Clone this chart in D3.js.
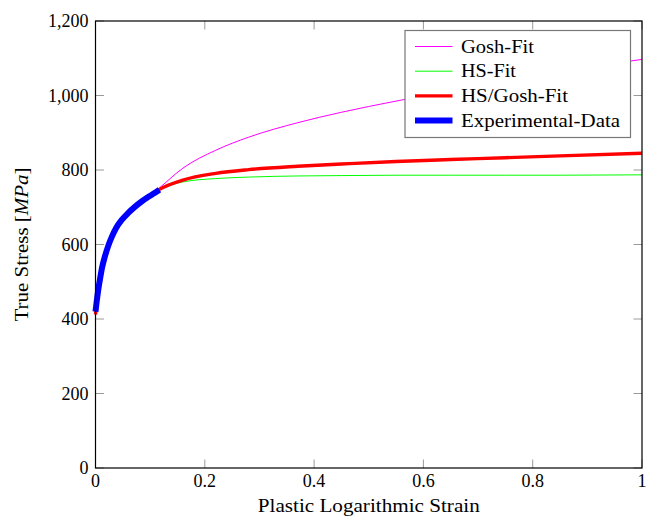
<!DOCTYPE html>
<html>
<head>
<meta charset="utf-8">
<script src="https://cdn.jsdelivr.net/npm/d3@7"></script>
<style>
  body { margin: 0; background: #fff; }
  text { font-family: "Liberation Serif", "DejaVu Serif", serif; fill: #000; }
</style>
</head>
<body>
<script>
// strain / stress
var strainExp = [0, 0.002, 0.005, 0.008, 0.012, 0.017, 0.023, 0.030, 0.038, 0.048, 0.060, 0.072, 0.085, 0.097, 0.108, 0.117]
var stressExp = [420, 445, 478, 505, 538, 567, 595, 621, 645, 666, 685, 701, 716, 728, 738, 747]

var strainFit = [0, 0.008, 0.017, 0.030, 0.048, 0.072, 0.097, 0.117, 0.16, 0.22, 0.28, 0.37, 0.45, 0.55, 0.65, 0.75, 0.85, 1.0]
var goshFit   = [412, 503, 566, 620, 665, 700, 728, 752, 805, 853, 888, 927, 955, 985, 1013, 1039, 1064, 1097]
var hsFit     = [412, 503, 566, 620, 665, 700, 728, 747, 768, 777, 781, 784, 785, 786, 786, 786, 786, 787]
var hsGoshFit = [412, 503, 566, 620, 665, 700, 728, 748, 773, 791, 801, 810, 816, 823, 828, 833, 838, 845]

var xTicks = [0, 0.2, 0.4, 0.6, 0.8, 1]
var yTicks = [0, 200, 400, 600, 800, 1000, 1200]

var series = [
  {name: "Gosh-Fit", x: strainFit, y: goshFit, color: "#ff00ff", w: 1, tl: 73},
  {name: "HS-Fit", x: strainFit, y: hsFit, color: "#00ff00", w: 1, tl: 55},
  {name: "HS/Gosh-Fit", x: strainFit, y: hsGoshFit, color: "#ff0000", w: 3.4, tl: 107},
  {name: "Experimental-Data", x: strainExp, y: stressExp, color: "#0000ff", w: 6, tl: 159}
]

var svg = d3.select('body')
    .append('svg')
    .attr('width', 650)
    .attr('height', 516)

var pLeft = 95.5, pRight = 642, pTop = 21, pBottom = 468

var x = d3.scaleLinear().domain([0, 1]).range([pLeft, pRight])
var y = d3.scaleLinear().domain([0, 1200]).range([pBottom, pTop])

var fmt = d3.format(",")
var tickLen = 8.5

// ticks, inward on all four sides
var tg = svg.append("g").attr("stroke", "#9a9a9a").attr("stroke-width", 1)
xTicks.forEach(function (t) {
  tg.append("line").attr("x1", x(t)).attr("x2", x(t)).attr("y1", pBottom).attr("y2", pBottom - tickLen)
  tg.append("line").attr("x1", x(t)).attr("x2", x(t)).attr("y1", pTop).attr("y2", pTop + tickLen)
})
yTicks.forEach(function (t) {
  tg.append("line").attr("x1", pLeft).attr("x2", pLeft + tickLen).attr("y1", y(t)).attr("y2", y(t))
  tg.append("line").attr("x1", pRight).attr("x2", pRight - tickLen).attr("y1", y(t)).attr("y2", y(t))
})

// curves
var line = d3.line()
    .x(d => x(d[0]))
    .y(d => y(d[1]))
    .curve(d3.curveMonotoneX)

series.forEach(function (s) {
  svg.append("path")
    .datum(s.x.map((v, i) => [v, s.y[i]]))
    .attr("d", line)
    .attr("fill", "none")
    .attr("stroke", s.color)
    .attr("stroke-width", s.w)
    .attr("stroke-linejoin", "round")
})

// frame
svg.append("rect")
    .attr("x", pLeft).attr("y", pTop)
    .attr("width", pRight - pLeft).attr("height", pBottom - pTop)
    .attr("fill", "none").attr("stroke", "#000").attr("stroke-width", 1.2)

// tick labels
svg.selectAll(".xl").data(xTicks).enter().append("text")
    .attr("x", d => x(d)).attr("y", pBottom + 19)
    .attr("text-anchor", "middle")
    .style("font-size", "18px")
    .text(d => d)

svg.selectAll(".yl").data(yTicks).enter().append("text")
    .attr("x", pLeft - 7).attr("y", d => y(d) + 6)
    .attr("text-anchor", "end")
    .style("font-size", "18px")
    .text(d => fmt(d))

// axis titles
svg.append("text")
    .attr("x", (pLeft + pRight) / 2).attr("y", 512)
    .attr("text-anchor", "middle")
    .attr("textLength", 222).attr("lengthAdjust", "spacingAndGlyphs")
    .style("font-size", "18px")
    .text("Plastic Logarithmic Strain")

var yt = svg.append("text")
    .attr("transform", "translate(28," + ((pTop + pBottom) / 2) + ") rotate(-90)")
    .attr("text-anchor", "middle")
    .attr("textLength", 154).attr("lengthAdjust", "spacingAndGlyphs")
    .style("font-size", "18px")
yt.append("tspan").text("True Stress [")
yt.append("tspan").style("font-style", "italic").text("MPa")
yt.append("tspan").text("]")

// legend
var lg = svg.append("g")
lg.append("rect")
    .attr("x", 405).attr("y", 30.5)
    .attr("width", 225.5).attr("height", 107)
    .attr("fill", "#fff").attr("stroke", "#777").attr("stroke-width", 1.2)

series.forEach(function (s, i) {
  var ly = 46.5 + i * 24.7
  lg.append("line")
    .attr("x1", 415).attr("x2", 452.5)
    .attr("y1", ly).attr("y2", ly)
    .attr("stroke", s.color).attr("stroke-width", s.w)
  lg.append("text")
    .attr("x", 461).attr("y", ly + 6)
    .attr("textLength", s.tl).attr("lengthAdjust", "spacingAndGlyphs")
    .style("font-size", "18px")
    .text(s.name)
})
</script>
</body>
</html>
